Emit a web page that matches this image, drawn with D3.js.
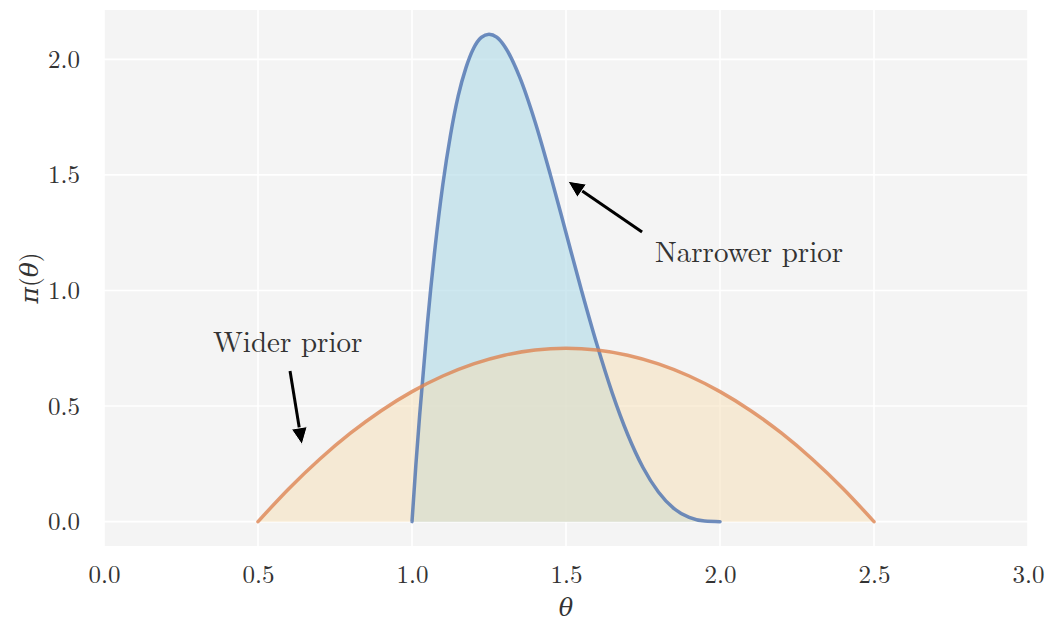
<!DOCTYPE html>
<html><head><meta charset="utf-8">
<script src="https://cdn.jsdelivr.net/npm/d3@7"></script>
<style>
body{margin:0;background:#fff;}
text{font-family:"Latin Modern Roman","CMU Serif","DejaVu Serif",serif;fill:#333;}
</style></head>
<body><svg id="c" width="1048" height="622"></svg>
<script>
// Narrower prior (theta, density)
const narrowX = [1.0,1.0125,1.025,1.05,1.075,1.1,1.125,1.15,1.175,1.2,1.225,1.25,1.275,1.3,1.35,1.4,1.45,1.5,1.55,1.6,1.65,1.7,1.75,1.8,1.85,1.9,1.95,2.0];
const narrowY = [0,0.244,0.463,0.857,1.187,1.458,1.673,1.842,1.963,2.048,2.095,2.109,2.096,2.058,1.922,1.728,1.497,1.25,1.002,0.768,0.557,0.378,0.234,0.128,0.057,0.018,0.0024,0];
// Wider prior
const wideX = [0.5,0.6,0.7,0.8,0.9,1.0,1.1,1.2,1.3,1.4,1.5,1.6,1.7,1.8,1.9,2.0,2.1,2.2,2.3,2.4,2.5];
const wideY = [0,0.1425,0.27,0.3825,0.48,0.5625,0.63,0.6825,0.72,0.7425,0.75,0.7425,0.72,0.6825,0.63,0.5625,0.48,0.3825,0.27,0.1425,0];
const xTicks = [0,0.5,1.0,1.5,2.0,2.5,3.0];
const yTicks = [0,0.5,1.0,1.5,2.0];
const labels = ["Narrower prior","Wider prior"];

const W=1048,H=622,m={l:104,r:20,t:10,b:76};
const svg=d3.select("#c");
const x=d3.scaleLinear().domain([0,3]).range([m.l,W-m.r]);
const y=d3.scaleLinear().domain([-0.1054,2.2135]).range([H-m.b,m.t]);

svg.append("rect").attr("x",m.l).attr("y",m.t).attr("width",W-m.l-m.r).attr("height",H-m.t-m.b).attr("fill","#f4f4f4");
const g=svg.append("g");
g.selectAll(".gx").data(xTicks).join("line").attr("x1",d=>x(d)).attr("x2",d=>x(d)).attr("y1",m.t).attr("y2",H-m.b).attr("stroke","#fff").attr("stroke-width",1.6);
g.selectAll(".gy").data(yTicks).join("line").attr("y1",d=>y(d)).attr("y2",d=>y(d)).attr("x1",m.l).attr("x2",W-m.r).attr("stroke","#fff").attr("stroke-width",1.6);

const xa=svg.append("g").attr("transform",`translate(0,${H-m.b})`).call(d3.axisBottom(x).tickValues(xTicks).tickFormat(d3.format(".1f")).tickSize(0).tickPadding(19));
const ya=svg.append("g").attr("transform",`translate(${m.l},0)`).call(d3.axisLeft(y).tickValues(yTicks).tickFormat(d3.format(".1f")).tickSize(0).tickPadding(24));
[xa,ya].forEach(a=>{a.select(".domain").remove();a.selectAll("text").style("font-size","25px").attr("fill","#333");});

const nd=narrowX.map((v,i)=>[v,narrowY[i]]);
const wd=wideX.map((v,i)=>[v,wideY[i]]);
const area=d3.area().x(d=>x(d[0])).y0(y(0)).y1(d=>y(d[1])).curve(d3.curveMonotoneX);
const line=d3.line().x(d=>x(d[0])).y(d=>y(d[1])).curve(d3.curveMonotoneX);

svg.append("path").attr("d",area(nd)).attr("fill","#add8e6").attr("fill-opacity",0.6);
svg.append("path").attr("d",area(wd)).attr("fill","#f5deb3").attr("fill-opacity",0.5);
svg.append("path").attr("d",line(nd)).attr("fill","none").attr("stroke","#4c72b0").attr("stroke-opacity",0.8).attr("stroke-width",3.5).attr("stroke-linecap","round");
svg.append("path").attr("d",line(wd)).attr("fill","none").attr("stroke","#dd8452").attr("stroke-opacity",0.8).attr("stroke-width",3.5).attr("stroke-linecap","round");

// annotations
function arrow(x1,y1,x2,y2){
  const px1=x(x1),py1=y(y1),px2=x(x2),py2=y(y2);
  const ang=Math.atan2(py2-py1,px2-px1);
  const hl=17,hw=8;
  const bx=px2-hl*Math.cos(ang),by=py2-hl*Math.sin(ang);
  svg.append("line").attr("x1",px1).attr("y1",py1).attr("x2",bx).attr("y2",by).attr("stroke","#000").attr("stroke-width",3);
  const p=[[px2,py2],[bx+hw*Math.sin(ang),by-hw*Math.cos(ang)],[bx-hw*Math.sin(ang),by+hw*Math.cos(ang)]];
  svg.append("path").attr("d","M"+p.join("L")+"Z").attr("fill","#000").attr("stroke","#fff").attr("stroke-width",1);
}
arrow(1.747,1.253,1.506,1.473);
arrow(0.604,0.652,0.643,0.333);
svg.append("text").attr("x",x(1.789)).attr("y",y(1.123)).style("font-size","29px").text(labels[0]);
svg.append("text").attr("x",x(0.354)).attr("y",y(0.734)).style("font-size","29px").text(labels[1]);

svg.append("text").attr("x",x(1.5)).attr("y",616).attr("text-anchor","middle").style("font-size","24px").style("font-style","italic").text("θ");
svg.append("text").attr("transform",`translate(38,${(m.t+H-m.b)/2}) rotate(-90)`).attr("text-anchor","middle").style("font-size","25px").html('<tspan font-style="italic">π</tspan>(<tspan font-style="italic">θ</tspan>)');
</script></body></html>
